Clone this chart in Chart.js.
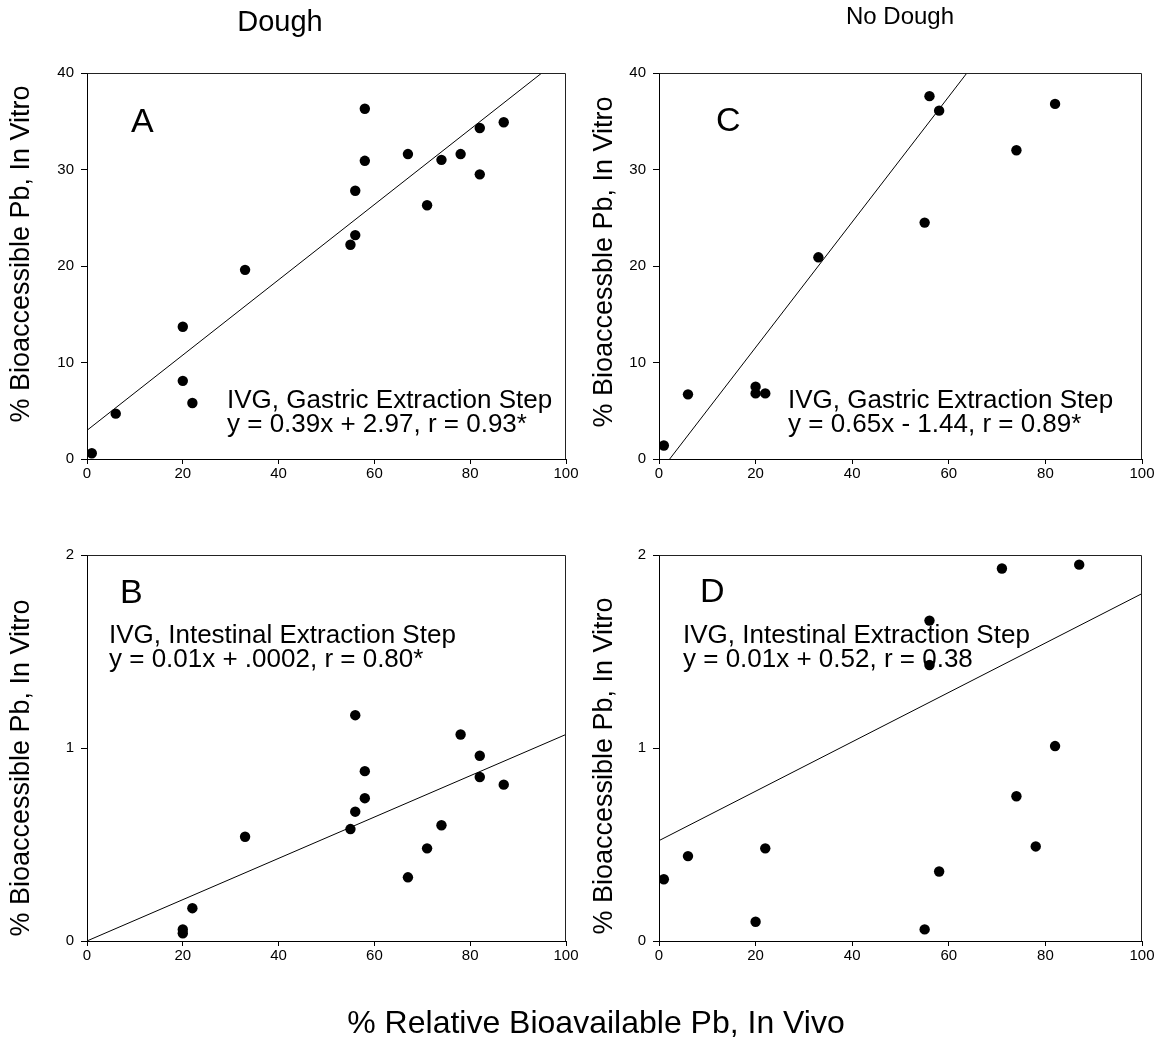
<!DOCTYPE html>
<html>
<head>
<meta charset="utf-8">
<script src="https://cdn.jsdelivr.net/npm/chart.js@4.4.1/dist/chart.umd.min.js"></script>
<style>
  html, body { margin: 0; padding: 0; background: #fff; }
  #wrap { position: relative; width: 1162px; height: 1041px; }
  #wrap canvas { position: absolute; left: 0; top: 0; }
</style>
</head>
<body>
<div id="wrap">
  <canvas id="chartA" width="1162" height="1041"></canvas>
  <canvas id="chartB" width="1162" height="1041"></canvas>
  <canvas id="chartC" width="1162" height="1041"></canvas>
  <canvas id="chartD" width="1162" height="1041"></canvas>
</div>
<script>
// % relative bioavailable Pb in vivo (x) vs % bioaccessible Pb in vitro (y)
const doughGastricX = [1, 6, 20, 20, 22, 33, 55, 56, 56, 58, 58, 67, 71, 74, 78, 82, 82, 87];
const doughGastricY = [0.6, 4.7, 13.7, 8.1, 5.8, 19.6, 22.2, 23.2, 27.8, 30.9, 36.3, 31.6, 26.3, 31.0, 31.6, 34.3, 29.5, 34.9];

const doughIntestinalX = [20, 20, 22, 33, 55, 56, 56, 58, 58, 67, 71, 74, 78, 82, 82, 87];
const doughIntestinalY = [0.06, 0.04, 0.17, 0.54, 0.58, 0.67, 1.17, 0.74, 0.88, 0.33, 0.48, 0.60, 1.07, 0.96, 0.85, 0.81];

const noDoughGastricX = [1, 6, 20, 20, 22, 33, 55, 56, 58, 74, 82];
const noDoughGastricY = [1.4, 6.7, 7.5, 6.8, 6.8, 20.9, 24.5, 37.6, 36.1, 32.0, 36.8];

const noDoughIntestinalX = [1, 6, 20, 22, 55, 56, 56, 58, 71, 74, 78, 82, 87];
const noDoughIntestinalY = [0.32, 0.44, 0.10, 0.48, 0.06, 1.66, 1.43, 0.36, 1.93, 0.75, 0.49, 1.01, 1.95];

// regression fits, panels A, B, C, D
const fitSlopes = [0.39, 0.0107, 0.65, 0.0128];
const fitIntercepts = [2.97, 0.0002, -1.44, 0.52];

const xTicks = [0, 20, 40, 60, 80, 100];
const gastricTicks = [0, 10, 20, 30, 40];
const intestinalTicks = [0, 1, 2];

const W = 1162, H = 1041, X_AXIS_H = 30;
const FONT = '"Liberation Sans", Arial, Helvetica, sans-serif';

// frame, panel letter, fit annotation and rotated y title
const panelDecor = {
  id: 'panelDecor',
  afterDatasetsDraw(chart, args, o) {
    const { ctx, chartArea: a } = chart;
    ctx.save();
    ctx.lineWidth = 1;
    const l = Math.round(a.left) + 0.5, t = Math.round(a.top) + 0.5;
    const r = Math.round(a.right) - 0.5;
    // top and right edges of the box
    ctx.strokeStyle = '#222';
    ctx.beginPath();
    ctx.moveTo(l, t);
    ctx.lineTo(r, t);
    ctx.lineTo(r, Math.round(a.bottom));
    ctx.stroke();

    ctx.fillStyle = '#000';
    ctx.textAlign = 'left';
    ctx.textBaseline = 'alphabetic';
    ctx.font = '34px ' + FONT;
    ctx.fillText(o.letter, o.letterX, o.letterY);
    ctx.font = '26px ' + FONT;
    o.note.forEach((line, i) => ctx.fillText(line, o.noteX, o.noteY + i * 24));

    if (o.heads) {
      o.heads.forEach(h => {
        ctx.font = h.size + 'px ' + FONT;
        ctx.textAlign = 'center';
        ctx.fillText(h.text, h.x, h.y);
      });
    }

    ctx.translate(o.yTitleX, o.yTitleY);
    ctx.rotate(-Math.PI / 2);
    ctx.textAlign = 'center';
    ctx.textBaseline = 'middle';
    ctx.font = '27px ' + FONT;
    ctx.fillText(o.yTitle, 0, 0);
    ctx.restore();
  }
};

function makeChart(id, p) {
  const pts = p.xs.map((x, i) => ({ x: x, y: p.ys[i] }));
  const fit = [
    { x: 0, y: p.intercept },
    { x: 100, y: p.slope * 100 + p.intercept }
  ];
  const tickFont = { family: FONT, size: 15 };
  return new Chart(document.getElementById(id), {
    type: 'scatter',
    data: {
      datasets: [
        { data: pts, pointRadius: 5.2, pointHoverRadius: 5.2, backgroundColor: '#000', borderColor: '#000', borderWidth: 0 },
        { data: fit, showLine: true, pointRadius: 0, borderColor: '#000', borderWidth: 1, fill: false }
      ]
    },
    options: {
      responsive: false,
      animation: false,
      events: [],
      layout: {
        padding: { left: p.boxLeft, top: p.area.top, right: W - p.area.right, bottom: H - p.area.bottom - X_AXIS_H }
      },
      plugins: {
        legend: { display: false },
        tooltip: { enabled: false },
        panelDecor: p.decor
      },
      scales: {
        x: {
          type: 'linear', min: 0, max: 100,
          afterBuildTicks: s => { s.ticks = xTicks.map(v => ({ value: v })); },
          afterFit: s => { s.height = X_AXIS_H; },
          grid: { display: true, drawOnChartArea: false, drawTicks: true, tickLength: 5, color: '#000' },
          border: { display: true, color: '#000', width: 1 },
          ticks: { color: '#000', font: tickFont, padding: 1, maxRotation: 0, autoSkip: false }
        },
        y: {
          type: 'linear', min: 0, max: p.yTicks[p.yTicks.length - 1],
          afterBuildTicks: s => { s.ticks = p.yTicks.map(v => ({ value: v })); },
          afterFit: s => { s.width = p.area.left - p.boxLeft; },
          grid: { display: true, drawOnChartArea: false, drawTicks: true, tickLength: 6, color: '#000' },
          border: { display: true, color: '#000', width: 1 },
          ticks: { color: '#000', font: tickFont, padding: 7, autoSkip: false }
        }
      }
    },
    plugins: [panelDecor]
  });
}

makeChart('chartA', {
  xs: doughGastricX, ys: doughGastricY, slope: fitSlopes[0], intercept: fitIntercepts[0],
  yTicks: gastricTicks, boxLeft: 0, area: { left: 87, top: 73, right: 566, bottom: 459 },
  decor: {
    letter: 'A', letterX: 131, letterY: 132,
    note: ['IVG, Gastric Extraction Step', 'y = 0.39x + 2.97, r = 0.93*'], noteX: 227, noteY: 408,
    yTitle: '% Bioaccessible Pb, In Vitro', yTitleX: 22, yTitleY: 254,
    heads: [
      { text: 'Dough', x: 280, y: 31, size: 29 },
      { text: 'No Dough', x: 900, y: 24, size: 24 },
      { text: '% Relative Bioavailable Pb, In Vivo', x: 596, y: 1033, size: 32 }
    ]
  }
});

makeChart('chartB', {
  xs: doughIntestinalX, ys: doughIntestinalY, slope: fitSlopes[1], intercept: fitIntercepts[1],
  yTicks: intestinalTicks, boxLeft: 0, area: { left: 87, top: 555, right: 566, bottom: 941 },
  decor: {
    letter: 'B', letterX: 120, letterY: 603,
    note: ['IVG, Intestinal Extraction Step', 'y = 0.01x + .0002, r = 0.80*'], noteX: 109, noteY: 643,
    yTitle: '% Bioaccessible Pb, In Vitro', yTitleX: 22, yTitleY: 768
  }
});

makeChart('chartC', {
  xs: noDoughGastricX, ys: noDoughGastricY, slope: fitSlopes[2], intercept: fitIntercepts[2],
  yTicks: gastricTicks, boxLeft: 580, area: { left: 659, top: 73, right: 1142, bottom: 459 },
  decor: {
    letter: 'C', letterX: 716, letterY: 131,
    note: ['IVG, Gastric Extraction Step', 'y = 0.65x - 1.44, r = 0.89*'], noteX: 788, noteY: 408,
    yTitle: '% Bioaccessble Pb, In Vitro', yTitleX: 605, yTitleY: 262
  }
});

makeChart('chartD', {
  xs: noDoughIntestinalX, ys: noDoughIntestinalY, slope: fitSlopes[3], intercept: fitIntercepts[3],
  yTicks: intestinalTicks, boxLeft: 580, area: { left: 659, top: 555, right: 1142, bottom: 941 },
  decor: {
    letter: 'D', letterX: 700, letterY: 602,
    note: ['IVG, Intestinal Extraction Step', 'y = 0.01x + 0.52, r = 0.38'], noteX: 683, noteY: 643,
    yTitle: '% Bioaccessible Pb, In Vitro', yTitleX: 605, yTitleY: 766
  }
});
</script>
</body>
</html>
